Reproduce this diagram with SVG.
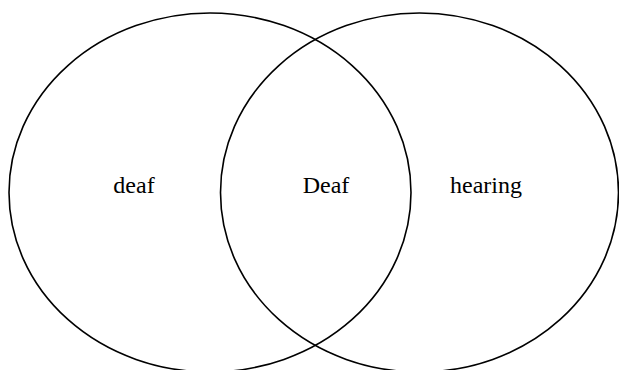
<svg xmlns="http://www.w3.org/2000/svg" width="619" height="370" viewBox="0 0 619 370">
<style>
.c{fill:none;stroke:#000;stroke-width:1.6}
.t{font-family:"Liberation Serif","Times New Roman",serif;font-size:24px;fill:#000;text-anchor:middle}
</style>
<rect width="619" height="370" fill="#fff"/>
<g id="left">
<ellipse class="c" cx="210" cy="192.5" rx="201" ry="179.5"/>
<text class="t" x="134" y="193">deaf</text>
</g>
<g id="right">
<ellipse class="c" cx="419.5" cy="192.5" rx="199" ry="179.5"/>
<text class="t" x="486" y="193">hearing</text>
</g>
<g id="overlap">
<text class="t" x="326" y="193">Deaf</text>
</g>
<g id="connectors"></g>
</svg>
